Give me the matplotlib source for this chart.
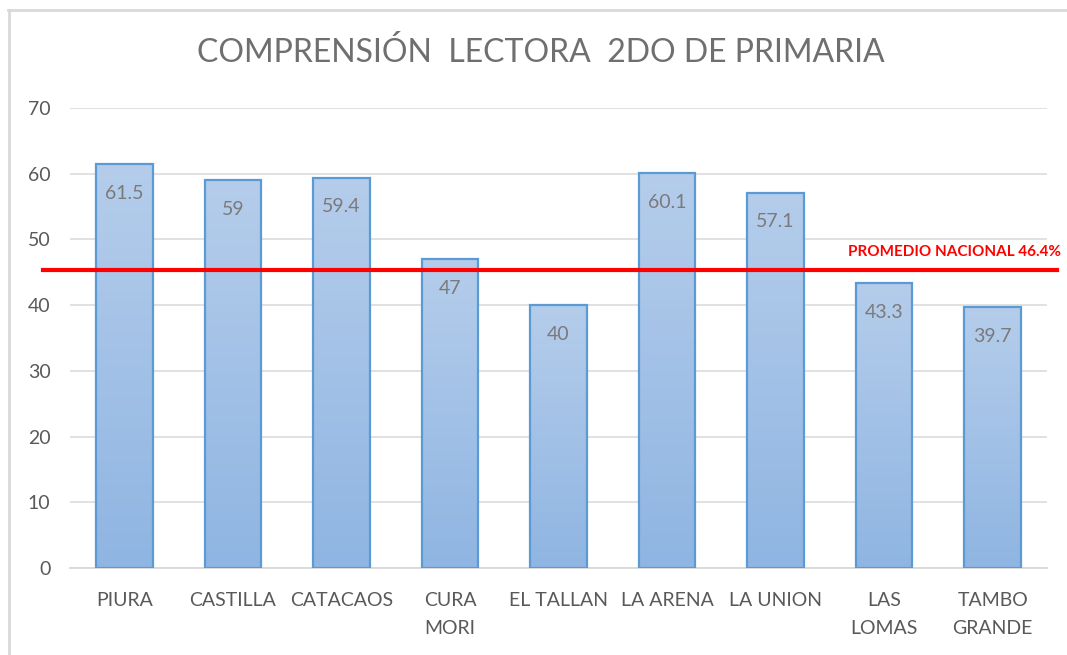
#!/usr/bin/python
# -*- coding: utf-8 -*-

"""
Comprensión lectora 2do de primaria, por distrito
"""

import matplotlib
matplotlib.use('Agg')
import matplotlib.pyplot as plt
from matplotlib.lines import Line2D
from matplotlib.colors import LinearSegmentedColormap
import numpy as np

distritos = ['PIURA', 'CASTILLA', 'CATACAOS', 'CURA\nMORI', 'EL TALLAN',
             'LA ARENA', 'LA UNION', 'LAS\nLOMAS', 'TAMBO\nGRANDE']
valores = [61.5, 59, 59.4, 47, 40, 60.1, 57.1, 43.3, 39.7]
etiquetas = ['61.5', '59', '59.4', '47', '40', '60.1', '57.1', '43.3', '39.7']
promedio_texto = 'PROMEDIO NACIONAL 46.4%'
promedio_linea = 45.3   # donde aparece dibujada la linea roja
yticks = [0, 10, 20, 30, 40, 50, 60, 70]

GRIS = '#595959'


def main():
    plt.rcParams['font.family'] = ['Lato', 'DejaVu Sans']
    fig = plt.figure(figsize=(10.67, 6.55), dpi=100)
    ax = fig.add_axes([70 / 1067, 87 / 655, 977 / 1067, 460 / 655])

    # marco del grafico (borde gris claro)
    fig.add_artist(Line2D([8 / 1067, 1.0], [1 - 10 / 655, 1 - 10 / 655],
                          color='#d9d9d9', lw=2, transform=fig.transFigure))
    fig.add_artist(Line2D([9 / 1067, 9 / 1067], [0.0, 1 - 10 / 655],
                          color='#d9d9d9', lw=2, transform=fig.transFigure))

    x = np.arange(len(distritos))
    barras = ax.bar(x, valores, width=0.52, color='none',
                    edgecolor='#5b9bd5', linewidth=1.6, zorder=3)

    # relleno con degradado
    cmap = LinearSegmentedColormap.from_list('deg', ['#8fb5e2', '#b5cdeb'])
    grad = np.linspace(0, 1, 256).reshape(-1, 1)
    for b in barras:
        x0, w, h = b.get_x(), b.get_width(), b.get_height()
        im = ax.imshow(grad, cmap=cmap, origin='lower', aspect='auto',
                       extent=(x0, x0 + w, 0, h), zorder=2)
        im.set_clip_path(b)

    for xi, v, t in zip(x, valores, etiquetas):
        ax.annotate(t, (xi, v), xytext=(0, -21), textcoords='offset points',
                    ha='center', va='center', fontsize=14, color='#7a7a7a',
                    zorder=5)

    ax.set_xlim(-0.5, len(distritos) - 0.5)
    ax.set_ylim(0, 70)
    ax.set_yticks(yticks)
    ax.set_xticks(x)
    ax.set_xticklabels(distritos, linespacing=1.8)
    ax.tick_params(axis='both', length=0, labelsize=14, labelcolor=GRIS)
    ax.tick_params(axis='x', pad=17)
    ax.tick_params(axis='y', pad=14)
    ax.grid(axis='y', color='#d9d9d9', lw=1.1, zorder=0)
    for s in ('top', 'right', 'left'):
        ax.spines[s].set_visible(False)
    ax.spines['bottom'].set_color('#d9d9d9')
    ax.spines['bottom'].set_linewidth(1.3)

    # linea del promedio nacional
    ax.axhline(promedio_linea, xmin=-0.028, xmax=1.01, color='#ff0000',
               lw=3, zorder=6, clip_on=False)
    ax.text(848 / 1067, 1 - 252 / 655, promedio_texto, transform=fig.transFigure,
            fontsize=11, fontweight='bold', color='#ff0000', va='center',
            ha='left')

    fig.text(541 / 1067, 1 - 53 / 655, u'COMPRENSIÓN  LECTORA  2DO DE PRIMARIA',
             ha='center', va='center', fontsize=23, color='#6f6f6f')

    fig.savefig('out.png', dpi=100)


if __name__ == '__main__':
    main()
